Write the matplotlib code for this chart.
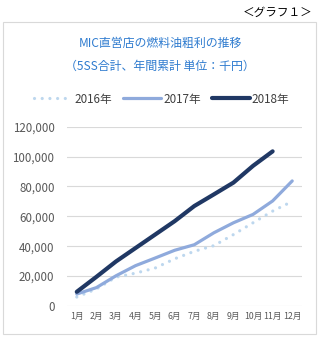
import matplotlib
matplotlib.use("Agg")
import matplotlib.pyplot as plt
from matplotlib.patches import Rectangle

plt.rcParams['font.family'] = ['Noto Sans CJK JP', 'DejaVu Sans']

months = ["1月", "2月", "3月", "4月", "5月", "6月", "7月", "8月", "9月", "10月", "11月", "12月"]
sales_2016 = [6000, 11400, 19300, 22000, 25400, 31600, 36600, 40400, 47800, 55700, 63500, 70000]
sales_2017 = [8000, 12300, 20200, 27000, 32100, 37300, 41000, 49000, 55700, 61300, 70300, 83700]
sales_2018 = [9500, 19500, 29800, 38800, 47800, 56800, 66900, 74700, 82600, 93800, 103500]
yticks = [0, 20000, 40000, 60000, 80000, 100000, 120000]

fig = plt.figure(figsize=(3.2, 3.4), dpi=100)

# outer frame
fig.patches.append(Rectangle((3 / 320, 6 / 340), 313 / 320, 312 / 340, transform=fig.transFigure,
                             fill=False, edgecolor="#D9D9D9", linewidth=0.8))
fig.text(313 / 320, 1 - 12 / 340, "＜グラフ１＞", ha="right", va="center", fontsize=8.4, color="#000000")
fig.text(160 / 320, 1 - 43 / 340, "MIC直営店の燃料油粗利の推移", ha="center", va="center",
         fontsize=8.6, color="#2E7BCF")
fig.text(160 / 320, 1 - 66 / 340, "（5SS合計、年間累計 単位：千円）", ha="center", va="center",
         fontsize=8.6, color="#2E7BCF")

ax = fig.add_axes([67 / 320, 34 / 340, 235 / 320, 179.3 / 340])
x = list(range(1, 13))
l16, = ax.plot(x[:len(sales_2016)], sales_2016, color="#BDD7EE", lw=2.3,
               linestyle=(0, (0.01, 2.4)), dash_capstyle="round", label="2016年")
l17, = ax.plot(x[:len(sales_2017)], sales_2017, color="#8FAADC", lw=2.3,
               solid_capstyle="round", label="2017年")
l18, = ax.plot(x[:len(sales_2018)], sales_2018, color="#203864", lw=3.0,
               solid_capstyle="round", label="2018年")

ax.set_xlim(0.5, 12.5)
ax.set_ylim(0, 120000)
ax.set_yticks(yticks)
ax.set_yticklabels([f"{v:,}" for v in yticks], fontsize=8.3, color="#595959")
ax.set_xticks(x)
ax.set_xticklabels(months, fontsize=6.3, color="#595959")
ax.tick_params(axis="y", length=0, pad=9)
ax.tick_params(axis="x", length=0, pad=4)
ax.grid(axis="y", color="#D9D9D9", lw=0.8)
ax.set_axisbelow(True)
for s in ax.spines.values():
    s.set_visible(False)

fig.legend(handles=[l16, l17, l18], loc="center", bbox_to_anchor=(162 / 320, 1 - 99 / 340),
           ncol=3, frameon=False, fontsize=8.4, handlelength=3.2, handletextpad=0.2,
           columnspacing=1.0, labelcolor="#404040")

fig.savefig("out.png", dpi=100, facecolor="white")
